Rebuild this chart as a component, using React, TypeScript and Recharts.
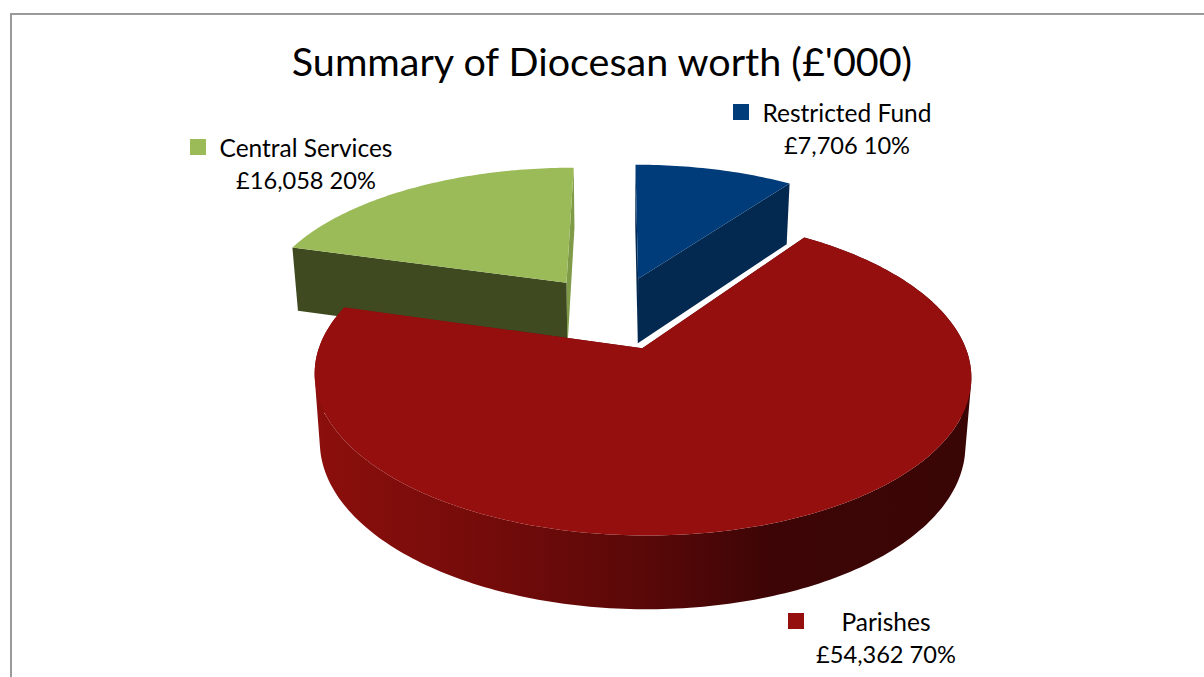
import { PieChart, Pie } from "recharts";

const categories = ["Central Services", "Restricted Fund", "Parishes"];
const worth = [16058, 7706, 54362];
const shownPercent = [20, 10, 70];

const topColors: Record<string, string> = {
  "Central Services": "#9bbb59",
  "Restricted Fund": "#003c7a",
  Parishes: "#960f0f",
};
const wallColors: Record<string, string> = {
  "Central Services": "#3f4a21",
  "Restricted Fund": "#032951",
  Parishes: "url(#parishWall)",
};
// slice pulled away from the pie centre, in units of the radius
const explode: Record<string, [number, number]> = {
  "Central Services": [-0.175, 0.26],
  "Restricted Fund": [0.064, 0.29],
  Parishes: [0.072, -0.195],
};
const labelSpots: Record<string, { square: number; squareY: number; x: number; y: number }> = {
  "Central Services": { square: 190, squareY: 139, x: 306, y: 147 },
  "Restricted Fund": { square: 733, squareY: 104, x: 847, y: 112 },
  Parishes: { square: 788, squareY: 613, x: 886, y: 621 },
};

const TILT = 0.464;
const PERSPECTIVE = 0.166;
const DEPTH = 66;
const SHRINK = 0.983;
const FONT = "Lato, 'Open Sans', sans-serif";

type Pt = [number, number];

const signedArea = (pts: Pt[]) =>
  pts.reduce((sum, p, i) => {
    const n = pts[(i + 1) % pts.length];
    return sum + p[0] * n[1] - n[0] * p[1];
  }, 0);

function Slice(props: any) {
  const { cx, cy, outerRadius, startAngle, endAngle, name } = props;
  const [du, dv] = explode[name];

  const top = (u: number, v: number): Pt => {
    const w = 1 + PERSPECTIVE * (v + dv);
    return [cx + (outerRadius * (u + du)) / w, cy - (outerRadius * TILT * (v + dv)) / w];
  };
  const bottom = (u: number, v: number): Pt => {
    const [x, y] = top(u, v);
    const w = 1 + PERSPECTIVE * (v + dv);
    return [cx + (x - cx) * SHRINK, y + DEPTH * Math.pow(w, -0.5)];
  };

  const from = 90 - startAngle;
  const to = 90 - endAngle;
  const arc: Pt[] = [];
  for (let a = from; a < to; a += 1) {
    arc.push([Math.sin((a * Math.PI) / 180), Math.cos((a * Math.PI) / 180)]);
  }
  arc.push([Math.sin((to * Math.PI) / 180), Math.cos((to * Math.PI) / 180)]);

  const toPath = (pts: Pt[]) =>
    "M" + pts.map((p) => p[0].toFixed(2) + "," + p[1].toFixed(2)).join("L") + "Z";

  const first = arc[0];
  const last = arc[arc.length - 1];
  const wall = wallColors[name];
  const topFace = [top(0, 0), ...arc.map((p) => top(p[0], p[1]))];
  const startWall = [top(0, 0), top(first[0], first[1]), bottom(first[0], first[1]), bottom(0, 0)];
  const endWall = [top(0, 0), top(last[0], last[1]), bottom(last[0], last[1]), bottom(0, 0)];

  // rim strips share one winding so they fill as a single shape, without seams,
  // and the silhouette runs straight down from the widest point
  const rim =
    name === "Parishes"
      ? arc
          .slice(1)
          .map((p, i) => {
            const q = arc[i];
            const strip = [top(q[0], q[1]), top(p[0], p[1]), bottom(p[0], p[1]), bottom(q[0], q[1])];
            return toPath(signedArea(strip) < 0 ? strip.reverse() : strip);
          })
          .join("")
      : null;

  return (
    <g>
      <path d={toPath(endWall)} fill={name === "Central Services" ? "#7f9b47" : wall} />
      <path d={toPath(startWall)} fill={wall} />
      {rim ? <path d={rim} fill={wall} /> : null}
      <path d={toPath(topFace)} fill={topColors[name]} />
    </g>
  );
}

function SliceLabel(props: any) {
  const { index, name, value } = props;
  const spot = labelSpots[name];
  return (
    <g>
      <rect x={spot.square} y={spot.squareY} width={16} height={16} fill={topColors[name]} />
      <text x={spot.x} y={spot.y} textAnchor="middle" dominantBaseline="central" fontFamily={FONT} fontSize={24.5} fill="#000">
        {categories[index]}
      </text>
      <text x={spot.x} y={spot.y + 33} textAnchor="middle" dominantBaseline="central" fontFamily={FONT} fontSize={23.6} fill="#000">
        {"£" + value.toLocaleString("en-GB") + " " + shownPercent[index] + "%"}
      </text>
    </g>
  );
}

const tableData = categories.map((name, i) => ({ name, value: worth[i] }));
const total = worth.reduce((a, b) => a + b, 0);
const firstAngle = 90 + (360 * worth[0]) / total;

export default function App() {
  return (
    <div style={{ position: "absolute", left: 0, top: 0, width: 1204, height: 677, background: "#fff", overflow: "hidden" }}>
      <div
        style={{
          position: "absolute",
          left: 10,
          top: 13,
          width: 1300,
          height: 800,
          border: "2px solid #9a9a9a",
        }}
      />
      <div style={{ position: "absolute", left: 0, top: 0 }}>
        <PieChart width={1204} height={677}>
          <defs>
            <linearGradient id="parishWall" gradientUnits="userSpaceOnUse" x1={313} y1={0} x2={970} y2={0}>
              <stop offset="0" stopColor="#8c0f0c" />
              <stop offset="0.3" stopColor="#700b0a" />
              <stop offset="0.5" stopColor="#5a0808" />
              <stop offset="0.7" stopColor="#3d0506" />
              <stop offset="1" stopColor="#3a0505" />
            </linearGradient>
          </defs>
          <text x={602} y={60} textAnchor="middle" dominantBaseline="central" fontFamily={FONT} fontSize={39.5} fill="#000">
            Summary of Diocesan worth (£'000)
          </text>
          <Pie
            data={tableData}
            dataKey="value"
            nameKey="name"
            cx={614}
            cy={314}
            outerRadius={313}
            startAngle={firstAngle}
            endAngle={firstAngle - 360}
            stroke="none"
            shape={Slice}
            label={SliceLabel}
            labelLine={false}
            isAnimationActive={false}
          />
        </PieChart>
      </div>
    </div>
  );
}
